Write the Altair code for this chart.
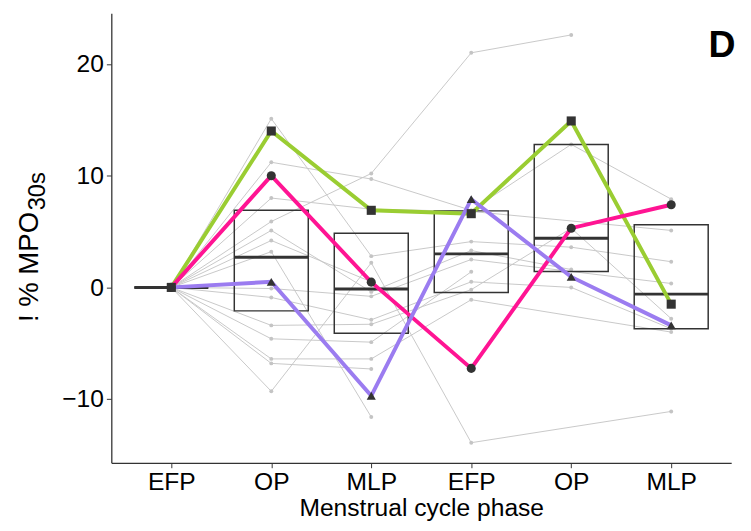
import altair as alt
import pandas as pd

# ---------------- data ----------------
phase_pos = [1, 2, 3, 4, 5, 6]
phase_labels = ["EFP", "OP", "MLP", "EFP", "OP", "MLP"]

# individual participants (grey); None = no value at that phase
grey_s1 = [0, 11.2, 9.7, 6.9, 12.8, 7.9]
grey_s2 = [0, 8.0, 7.0, 6.8, None, 5.1]
grey_s3 = [0, 5.9, 10.2, 21.0, 22.6, None]
grey_s4 = [0, 15.1, 2.8, 4.1, 3.6, 2.3]
grey_s5 = [0, -9.3, 2.2, -13.9, None, -11.1]
grey_s6 = [0, 5.1, -0.4, 3.3, 1.6, None]
grey_s7 = [0, 3.2, -11.6, None, None, None]
grey_s8 = [0, -0.1, -0.8, 2.5, None, 0.35]
grey_s9 = [0, -0.9, -2.9, 0.5, 0.0, -3.7]
grey_s10 = [0, -3.4, -3.3, -0.2, 5.3, -2.8]
grey_s11 = [0, -4.6, -4.9, 1.4, None, None]
grey_s12 = [0, -6.4, -6.4, -1.1, None, -4.0]
grey_s13 = [0, -6.8, -7.3, None, None, None]
grey_s14 = [0, 4.2, 0.5, None, None, None]

# highlighted participants
green_vals = [0, 14.0, 6.9, 6.6, 14.9, -1.5]
pink_vals = [0, 10.0, 0.47, -7.25, 5.3, 7.4]
purple_vals = [0, 0.5, -9.7, 7.9, 0.94, -3.4]

# crossbar summaries
box_low = [0, -2.1, -4.1, -0.45, 1.43, -3.7]
box_med = [0, 2.7, -0.15, 3.0, 4.4, -0.6]
box_high = [0, 6.9, 4.85, 6.85, 12.8, 5.6]

# ---------------- build tables ----------------
greys = [grey_s1, grey_s2, grey_s3, grey_s4, grey_s5, grey_s6, grey_s7,
         grey_s8, grey_s9, grey_s10, grey_s11, grey_s12, grey_s13, grey_s14]
grey_rows = []
for i, s in enumerate(greys):
    for p, v in zip(phase_pos, s):
        if v is not None:
            grey_rows.append({"subj": f"s{i+1}", "pos": p, "val": v})
grey_df = pd.DataFrame(grey_rows)

hl_rows = []
for name, s in [("green", green_vals), ("pink", pink_vals), ("purple", purple_vals)]:
    for p, v in zip(phase_pos, s):
        hl_rows.append({"subj": name, "pos": p, "val": v})
hl_df = pd.DataFrame(hl_rows)

half = 0.37
box_df = pd.DataFrame({
    "pos": phase_pos,
    "lo": box_low, "med": box_med, "hi": box_high,
})
box_df["x1"] = box_df["pos"] - half
box_df["x2"] = box_df["pos"] + half

label_expr = "[" + ",".join(f"'{l}'" for l in phase_labels) + "][datum.value - 1]"

xscale = alt.Scale(domain=[0.4, 6.6], nice=False, zero=False)
yscale = alt.Scale(domain=[-15.7, 24.55], nice=False, zero=False)

xaxis = alt.Axis(values=phase_pos, labelExpr=label_expr, title="Menstrual cycle phase",
                 titleFontSize=25, titleFontWeight="normal", titleColor="black",
                 titleFont="Liberation Sans", titlePadding=2, labelPadding=2)
yaxis = alt.Axis(values=[-10, 0, 10, 20], title=None, labelPadding=3)

X = alt.X("pos:Q", scale=xscale, axis=xaxis)
Y = alt.Y("val:Q", scale=yscale, axis=yaxis)

base_grey = alt.Chart(grey_df)
grey_lines = base_grey.mark_line(color="#c8c8c8", strokeWidth=1).encode(x=X, y=Y, detail="subj:N")
grey_pts = base_grey.mark_circle(color="#c4c4c4", size=16, opacity=1).encode(x=X, y=Y)

boxes = alt.Chart(box_df).mark_rect(fillOpacity=0, stroke="#333333", strokeWidth=1.5).encode(
    x=alt.X("x1:Q", scale=xscale, axis=xaxis), x2="x2:Q",
    y=alt.Y("lo:Q", scale=yscale, axis=yaxis), y2="hi:Q")
medians = alt.Chart(box_df).mark_rule(color="#333333", strokeWidth=3).encode(
    x=alt.X("x1:Q", scale=xscale, axis=xaxis), x2="x2:Q",
    y=alt.Y("med:Q", scale=yscale, axis=yaxis))

hl_color = alt.Color("subj:N", scale=alt.Scale(domain=["green", "pink", "purple"],
                                               range=["#9acd32", "#ff1493", "#9b7cf0"]), legend=None)
hl_lines = alt.Chart(hl_df).mark_line(strokeWidth=4).encode(x=X, y=Y, color=hl_color)
hl_pts = alt.Chart(hl_df).mark_point(filled=True, color="#333333", opacity=1, size=85).encode(
    x=X, y=Y,
    shape=alt.Shape("subj:N", scale=alt.Scale(domain=["green", "pink", "purple"],
                                              range=["square", "circle", "triangle-up"]), legend=None))

txt_df = pd.DataFrame({"a": [1]})
ytitle = alt.Chart(txt_df).mark_text(text="! % MPO", angle=270, fontSize=28, font="Liberation Sans",
                                     color="black", align="center", baseline="middle").encode(
    x=alt.value(-83), y=alt.value(258))
ysub = alt.Chart(txt_df).mark_text(text="30s", angle=270, fontSize=24, font="Liberation Sans",
                                   color="black", align="center", baseline="middle").encode(
    x=alt.value(-74), y=alt.value(181))
dlabel = alt.Chart(txt_df).mark_text(text="D", fontSize=38, fontWeight="bold", font="Liberation Sans",
                                     color="black", align="left", baseline="alphabetic").encode(
    x=alt.value(607), y=alt.value(45))

chart = alt.layer(grey_lines, grey_pts, boxes, medians, hl_lines, hl_pts, ytitle, ysub, dlabel).properties(
    width=630, height=457,
    autosize=alt.AutoSizeParams(type="none"),
    padding={"left": 105, "top": 1, "right": 12, "bottom": 60},
).configure_view(stroke=None).configure_axis(
    grid=False, domainColor="#333333", domainWidth=1.3, tickColor="#333333", tickSize=5,
    labelFont="Liberation Sans", labelFontSize=25, labelColor="black",
)

chart.save("out.html", embed_options={"renderer": "svg", "actions": False})
